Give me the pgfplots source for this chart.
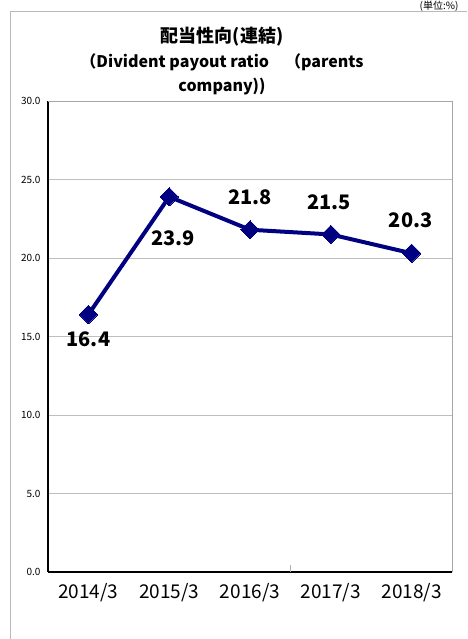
\documentclass[border=0pt]{standalone}
\usepackage{pgfplots}
\pgfplotsset{compat=1.18}
\usepackage{fontspec}
\setmainfont{Noto Sans CJK JP}
\definecolor{navyline}{RGB}{0,0,128}
\definecolor{gridgray}{RGB}{190,190,190}

\pgfplotstableread{
x  y     dx  dy
0  16.4  0   -25
1  23.9  4   -41
2  21.8  0   32
3  21.5  -2  32
4  20.3  -1  33
}\payout

\begin{document}
\begin{tikzpicture}[x=1pt,y=1pt]
\path[use as bounding box] (0,0) rectangle (467,639);
\draw[gray!55, line width=1pt] (10,0) -- (10,627) -- (467,627);
\node[anchor=base east, font=\fontsize{10}{10}\selectfont] at (462,629.5) {(単位:\%)};
\node[align=center, font=\bfseries\fontsize{18}{25}\selectfont] at (222,602) {配当性向(連結)};
\node[align=center, font=\bfseries\fontsize{16}{24}\selectfont] at (222,565) {（Divident payout ratio\quad（parents\\company))};
\begin{axis}[
    at={(48pt,67pt)}, anchor=south west,
    scale only axis, width=404pt, height=471pt,
    xmin=-0.5, xmax=4.5, ymin=0, ymax=30,
    xtick={0,1,2,3,4},
    xticklabels={2014/3,2015/3,2016/3,2017/3,2018/3},
    ytick={0,5,...,30},
    yticklabel={\pgfmathprintnumber[fixed,fixed zerofill,precision=1]{\tick}},
    /pgf/number format/assume math mode=true,
    x tick label style={font=\fontsize{19}{19}\selectfont, yshift=-8pt},
    y tick label style={font=\fontsize{10}{10}\selectfont, xshift=-4pt},
    major tick length=0pt,
    ymajorgrids=true,
    grid style={gridgray, line width=0.6pt},
    axis line style={line width=1.2pt},
    separate axis lines,
    x axis line style={-},
    y axis line style={-},
    axis x line*=bottom, axis y line*=left,
    extra x ticks={2.5}, extra x tick labels={},
    extra x tick style={major tick length=7pt, tick align=inside, tick style={gray!60, line width=0.8pt}, grid=none},
    clip=false,
]
\draw[gray!70, line width=0.8pt] (rel axis cs:0,1) -- (rel axis cs:1,1) -- (rel axis cs:1,0);
\addplot[navyline, line width=4pt, mark=square*, mark size=6.5pt,
    mark options={line width=0pt, fill=navyline, rotate=45},
    nodes near coords,
    point meta=explicit,
    visualization depends on={\thisrow{dx} \as \dx},
    visualization depends on={\thisrow{dy} \as \dy},
    nodes near coords style={anchor=center, xshift=\dx pt, yshift=\dy pt, black, rotate=0,
        font=\bfseries\fontsize{20}{20}\selectfont,
        /pgf/number format/fixed, /pgf/number format/precision=1, /pgf/number format/fixed zerofill,
        /pgf/number format/assume math mode=true},
] table[x=x, y=y, meta=y] {\payout};
\end{axis}
\end{tikzpicture}
\end{document}
